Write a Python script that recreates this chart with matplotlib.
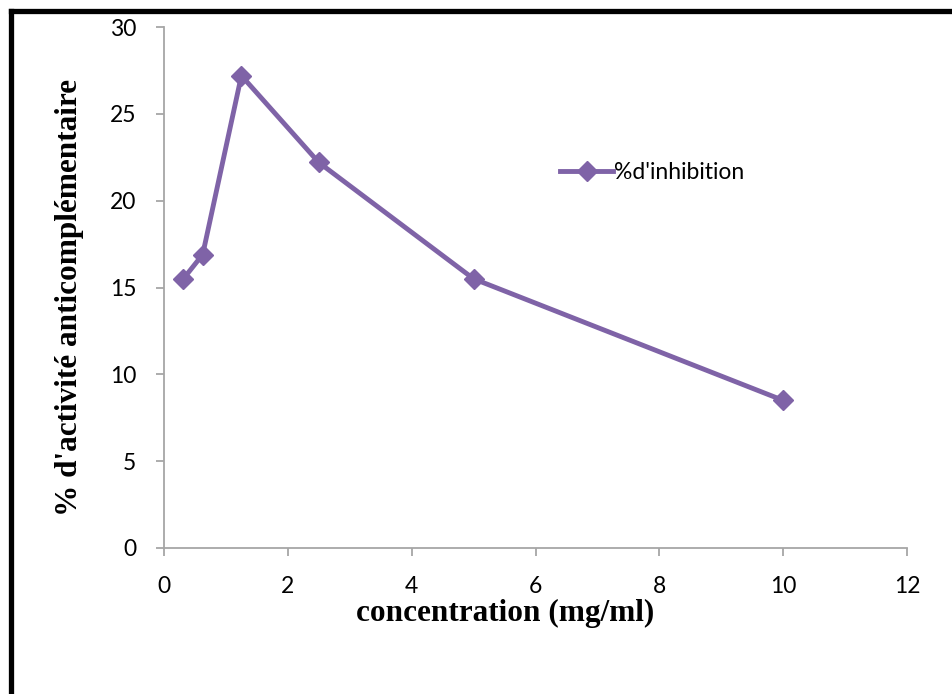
import matplotlib.pyplot as plt
from matplotlib.lines import Line2D

# data
concentration = [0.3125, 0.625, 1.25, 2.5, 5, 10]
inhibition = [15.5, 16.9, 27.2, 22.2, 15.5, 8.5]
x_ticks = [0, 2, 4, 6, 8, 10, 12]
y_ticks = [0, 5, 10, 15, 20, 25, 30]

purple = "#7F63A7"
grey = "#A6A6A6"
tick_font = ["Lato", "DejaVu Sans"]
label_font = ["Liberation Serif", "DejaVu Serif"]

fig = plt.figure(figsize=(9.52, 6.94), dpi=100)
ax = fig.add_axes([164 / 952, 1 - 548 / 694, 743 / 952, 521 / 694])

ax.plot(concentration, inhibition, color=purple, lw=3.5, marker="D",
        markersize=10, markerfacecolor=purple, markeredgecolor=purple,
        label="%d'inhibition")

ax.set_xlim(0, 12)
ax.set_ylim(0, 30)
ax.set_xticks(x_ticks)
ax.set_yticks(y_ticks)
for s in ("top", "right"):
    ax.spines[s].set_visible(False)
for s in ("left", "bottom"):
    ax.spines[s].set_color(grey)
    ax.spines[s].set_linewidth(1.3)
ax.tick_params(axis="both", direction="out", length=6, width=1.3, color=grey,
               labelsize=16.5, labelcolor="black")
ax.tick_params(axis="x", pad=14)
ax.tick_params(axis="y", pad=14)
for lbl in ax.get_xticklabels() + ax.get_yticklabels():
    lbl.set_fontfamily(tick_font)

fig.text(505 / 952, 1 - 613 / 694, "concentration (mg/ml)", ha="center",
         va="center", fontsize=22.5, fontweight="bold", family=label_font)
fig.text(70 / 952, 1 - 298 / 694, "% d'activité anticomplémentaire",
         ha="center", va="center", rotation=90, fontsize=22.5,
         fontweight="bold", family=label_font)

ax.legend(loc="upper left", bbox_to_anchor=(387 / 743, 1 - 126 / 521),
          frameon=False, handlelength=2.3, handletextpad=0.05,
          borderaxespad=0, prop={"family": tick_font, "size": 16.5})

# black frame around the chart (left and top edges visible)
fig.add_artist(Line2D([11 / 952, 11 / 952], [0, 1 - 11 / 694],
                      transform=fig.transFigure, color="black", lw=3.8,
                      solid_capstyle="projecting"))
fig.add_artist(Line2D([11 / 952, 1], [1 - 11 / 694, 1 - 11 / 694],
                      transform=fig.transFigure, color="black", lw=3.8,
                      solid_capstyle="projecting"))

fig.savefig("out.png", dpi=100)
